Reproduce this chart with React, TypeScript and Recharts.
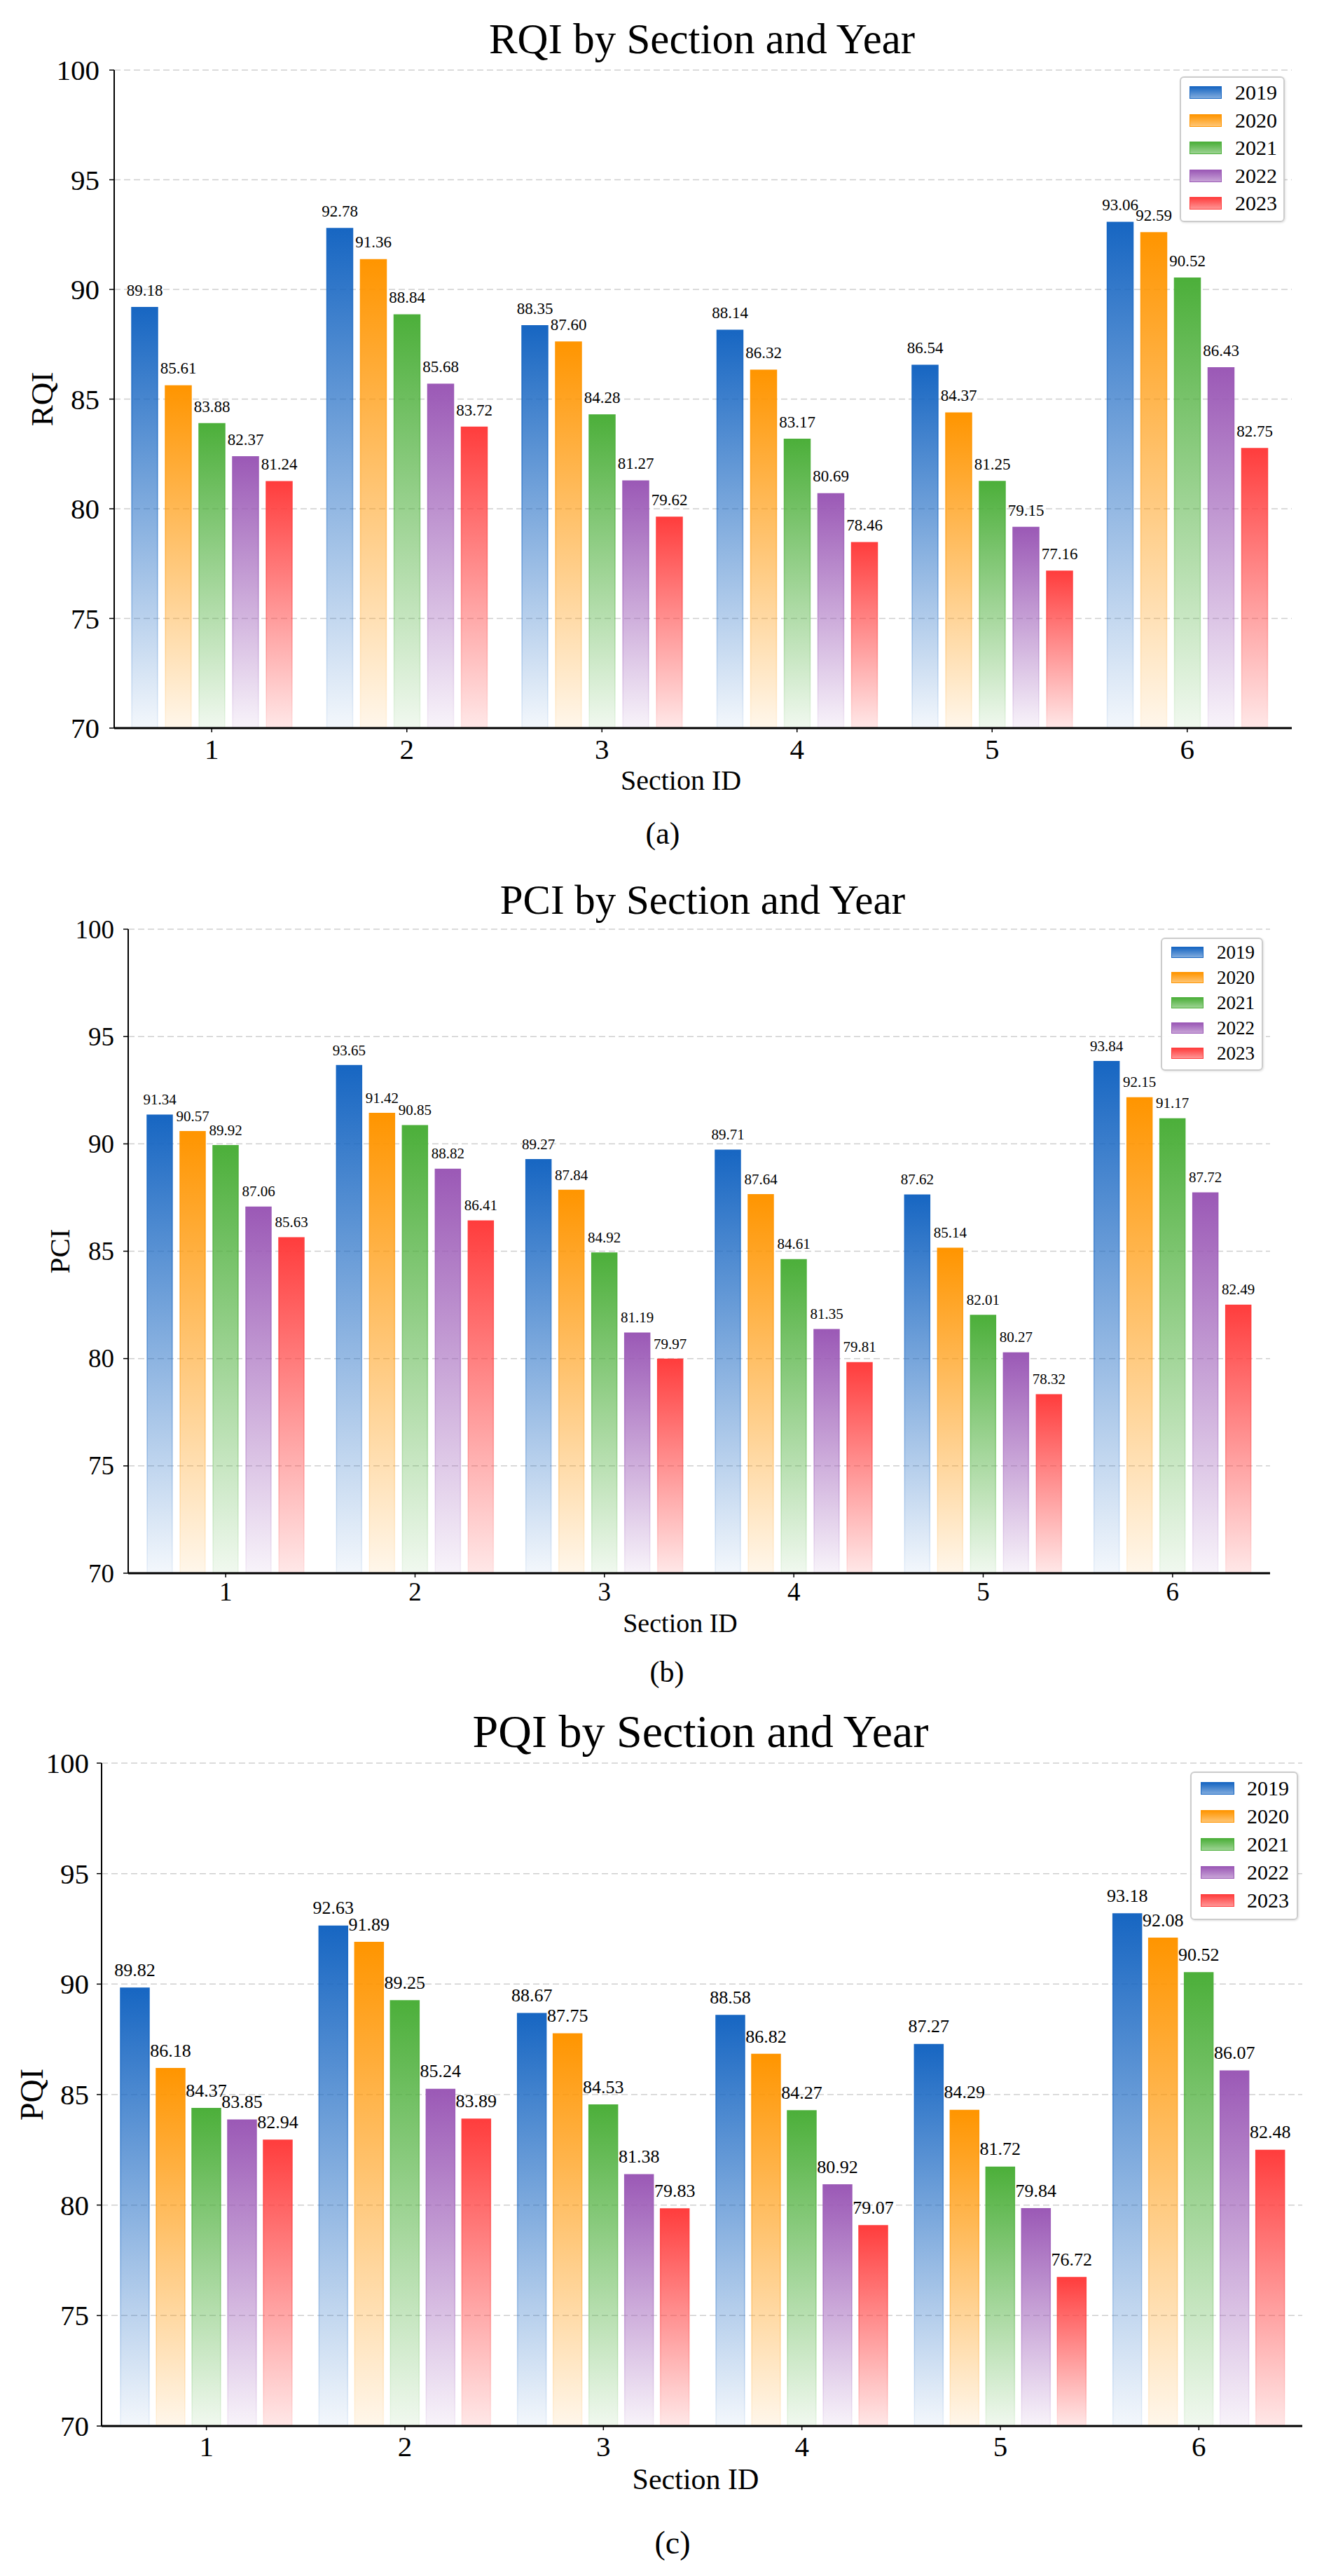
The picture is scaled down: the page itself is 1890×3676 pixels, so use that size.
import React from 'react';
import { BarChart, Bar, XAxis, YAxis, CartesianGrid, LabelList, Legend, Label } from 'recharts';

const SERIF = '"Liberation Serif", "Times New Roman", serif';

const sections = ['1', '2', '3', '4', '5', '6'];
const years = ['2019', '2020', '2021', '2022', '2023'];
const yTicks = [70, 75, 80, 85, 90, 95, 100];

// RQI values per year (sections 1..6)
const rqi2019 = [89.18, 92.78, 88.35, 88.14, 86.54, 93.06];
const rqi2020 = [85.61, 91.36, 87.6, 86.32, 84.37, 92.59];
const rqi2021 = [83.88, 88.84, 84.28, 83.17, 81.25, 90.52];
const rqi2022 = [82.37, 85.68, 81.27, 80.69, 79.15, 86.43];
const rqi2023 = [81.24, 83.72, 79.62, 78.46, 77.16, 82.75];

// PCI values per year
const pci2019 = [91.34, 93.65, 89.27, 89.71, 87.62, 93.84];
const pci2020 = [90.57, 91.42, 87.84, 87.64, 85.14, 92.15];
const pci2021 = [89.92, 90.85, 84.92, 84.61, 82.01, 91.17];
const pci2022 = [87.06, 88.82, 81.19, 81.35, 80.27, 87.72];
const pci2023 = [85.63, 86.41, 79.97, 79.81, 78.32, 82.49];

// PQI values per year
const pqi2019 = [89.82, 92.63, 88.67, 88.58, 87.27, 93.18];
const pqi2020 = [86.18, 91.89, 87.75, 86.82, 84.29, 92.08];
const pqi2021 = [84.37, 89.25, 84.53, 84.27, 81.72, 90.52];
const pqi2022 = [83.85, 85.24, 81.38, 80.92, 79.84, 86.07];
const pqi2023 = [82.94, 83.89, 79.83, 79.07, 76.72, 82.48];

const colors = ['#1766c2', '#ff9500', '#4caf3a', '#9b59b6', '#ff3d3d'];
const bottomOpacity = [0.05, 0.08, 0.08, 0.07, 0.12];

const buildRows = (series: number[][]) =>
  sections.map((s, i) => {
    const row: Record<string, any> = { section: s };
    years.forEach((y, k) => {
      row['y' + y] = series[k][i];
    });
    return row;
  });

type LegendCfg = {
  left: number; top: number; w: number; h: number;
  first: number; step: number; swL: number; swW: number; swH: number; txL: number; font: number;
};

type Cfg = {
  id: string; title: string; yLabel: string; caption: string;
  top: number; height: number;
  plotLeft: number; plotRight: number; plotTop: number; plotBottom: number;
  padL: number; padR: number; barSize: number; barGap: number;
  tickFont: number; yTickGap: number; xTickMargin: number;
  labelFont: number; labelOffset: number;
  titleFont: number; titleX: number; titleY: number;
  axisFont: number; xLabelX: number; xLabelY: number;
  yLabelFont: number; yLabelX: number;
  capFont: number; capX: number; capY: number;
  legend: LegendCfg;
  series: number[][];
};

const charts: Cfg[] = [
  {
    id: 'a', title: 'RQI by Section and Year', yLabel: 'RQI', caption: '(a)',
    top: 0, height: 1230,
    plotLeft: 163, plotRight: 1844, plotTop: 100, plotBottom: 1039,
    padL: 0, padR: 10, barSize: 37, barGap: 11,
    tickFont: 41, yTickGap: 14, xTickMargin: 9,
    labelFont: 23, labelOffset: 17,
    titleFont: 61, titleX: 1002, titleY: 56,
    axisFont: 40, xLabelX: 972, xLabelY: 1113,
    yLabelFont: 45, yLabelX: 60,
    capFont: 44, capX: 946, capY: 1190,
    legend: { left: 1684, top: 109, w: 150, h: 208, first: 23, step: 39.5, swL: 14, swW: 46, swH: 18, txL: 79, font: 30 },
    series: [rqi2019, rqi2020, rqi2021, rqi2022, rqi2023],
  },
  {
    id: 'b', title: 'PCI by Section and Year', yLabel: 'PCI', caption: '(b)',
    top: 1230, height: 1200,
    plotLeft: 183, plotRight: 1813, plotTop: 96, plotBottom: 1015,
    padL: 4, padR: 4, barSize: 36, barGap: 11,
    tickFont: 37, yTickGap: 13, xTickMargin: 7,
    labelFont: 21, labelOffset: 15,
    titleFont: 59, titleX: 1003, titleY: 54,
    axisFont: 38, xLabelX: 971, xLabelY: 1086,
    yLabelFont: 41, yLabelX: 85,
    capFont: 42, capX: 952, capY: 1156,
    legend: { left: 1657, top: 108, w: 146, h: 190, first: 21, step: 36, swL: 15, swW: 46, swH: 16, txL: 80, font: 27 },
    series: [pci2019, pci2020, pci2021, pci2022, pci2023],
  },
  {
    id: 'c', title: 'PQI by Section and Year', yLabel: 'PQI', caption: '(c)',
    top: 2430, height: 1246,
    plotLeft: 145, plotRight: 1859, plotTop: 86, plotBottom: 1032,
    padL: 8, padR: 6, barSize: 41, barGap: 10,
    tickFont: 41, yTickGap: 11, xTickMargin: 8,
    labelFont: 26, labelOffset: 17,
    titleFont: 66, titleX: 1000, titleY: 41,
    axisFont: 42, xLabelX: 993, xLabelY: 1108,
    yLabelFont: 46, yLabelX: 45,
    capFont: 46, capX: 960, capY: 1199,
    legend: { left: 1699, top: 98, w: 154, h: 212, first: 24, step: 40, swL: 15, swW: 48, swH: 18, txL: 81, font: 30 },
    series: [pqi2019, pqi2020, pqi2021, pqi2022, pqi2023],
  },
];

const hexA = (hex: string, a: number) => {
  const r = parseInt(hex.slice(1, 3), 16);
  const g = parseInt(hex.slice(3, 5), 16);
  const b = parseInt(hex.slice(5, 7), 16);
  return `rgba(${r},${g},${b},${a})`;
};

const LegendBox = ({ cfg }: { cfg: LegendCfg }) => (
  <div
    style={{
      position: 'relative',
      width: cfg.w,
      height: cfg.h,
      boxSizing: 'border-box',
      border: '2px solid #cccccc',
      borderRadius: 6,
      background: 'rgba(255,255,255,0.95)',
      boxShadow: '1px 1px 3px rgba(0,0,0,0.12)',
      fontFamily: SERIF,
    }}
  >
    {years.map((y, i) => {
      const cy = cfg.first + i * cfg.step - 2;
      return (
        <React.Fragment key={y}>
          <div
            style={{
              position: 'absolute',
              left: cfg.swL - 2,
              top: cy - cfg.swH / 2,
              width: cfg.swW,
              height: cfg.swH,
              boxSizing: 'border-box',
              border: `1px solid ${colors[i]}`,
              background: `linear-gradient(to bottom, ${hexA(colors[i], 1)} 0%, ${hexA(colors[i], 0.8)} 45%, ${hexA(colors[i], 0.55)} 100%)`,
            }}
          />
          <div
            style={{
              position: 'absolute',
              left: cfg.txL - 2,
              top: cy - cfg.font * 0.6,
              fontSize: cfg.font,
              lineHeight: `${cfg.font * 1.2}px`,
              color: '#000',
              whiteSpace: 'nowrap',
            }}
          >
            {y}
          </div>
        </React.Fragment>
      );
    })}
  </div>
);

const Overlay = ({ text, x, y, font }: { text: string; x: number; y: number; font: number }) => (
  <div
    style={{
      position: 'absolute',
      left: x - 500,
      width: 1000,
      top: y - font * 0.6,
      fontSize: font,
      lineHeight: `${font * 1.2}px`,
      textAlign: 'center',
      fontFamily: SERIF,
      color: '#000',
      whiteSpace: 'nowrap',
      pointerEvents: 'none',
    }}
  >
    {text}
  </div>
);

const makeYTick = (font: number) => (props: any) => {
  const { x, y, payload } = props;
  return (
    <text x={x} y={y} textAnchor="end" dominantBaseline="central" fontSize={font} fontFamily={SERIF} fill="#000">
      {payload.value}
    </text>
  );
};

const makeXTick = (font: number) => (props: any) => {
  const { x, y, payload } = props;
  return (
    <text x={x} y={y} dy="0.71em" textAnchor="middle" fontSize={font} fontFamily={SERIF} fill="#000">
      {payload.value}
    </text>
  );
};

const Chart = ({ cfg }: { cfg: Cfg }) => {
  const data = buildRows(cfg.series);
  const yAxisWidth = 100;
  const xAxisHeight = 100;
  const margin = {
    top: cfg.plotTop,
    left: cfg.plotLeft - yAxisWidth,
    right: 1890 - cfg.plotRight,
    bottom: cfg.height - cfg.plotBottom - xAxisHeight,
  };
  return (
    <div style={{ position: 'absolute', left: 0, top: cfg.top, width: 1890, height: cfg.height, fontFamily: SERIF }}>
      <BarChart
        width={1890}
        height={cfg.height}
        data={data}
        margin={margin}
        barSize={cfg.barSize}
        barGap={cfg.barGap}
        style={{ fontFamily: SERIF }}
      >
        <defs>
          {colors.map((c, i) => (
            <linearGradient key={'f' + i} id={`fill-${cfg.id}-${i}`} x1="0" y1="0" x2="0" y2="1">
              <stop offset="0%" stopColor={c} stopOpacity={1} />
              <stop offset="100%" stopColor={c} stopOpacity={bottomOpacity[i]} />
            </linearGradient>
          ))}
          {colors.map((c, i) => (
            <linearGradient key={'s' + i} id={`edge-${cfg.id}-${i}`} x1="0" y1="0" x2="0" y2="1">
              <stop offset="0%" stopColor={c} stopOpacity={1} />
              <stop offset="100%" stopColor={c} stopOpacity={0.08} />
            </linearGradient>
          ))}
        </defs>
        <CartesianGrid
          horizontal
          vertical={false}
          stroke="#cfcfcf"
          strokeDasharray="9 5"
          strokeWidth={1.5}
        />
        <XAxis
          dataKey="section"
          height={xAxisHeight}
          padding={{ left: cfg.padL, right: cfg.padR }}
          tickSize={6}
          tickMargin={cfg.xTickMargin}
          axisLine={{ stroke: '#000', strokeWidth: 3 }}
          tickLine={{ stroke: '#000', strokeWidth: 1.5 }}
          tick={makeXTick(cfg.tickFont)}
        >
          <Label
            content={() => (
              <text
                x={cfg.xLabelX}
                y={cfg.xLabelY}
                textAnchor="middle"
                dominantBaseline="central"
                fontSize={cfg.axisFont}
                fontFamily={SERIF}
                fill="#000"
              >
                Section ID
              </text>
            )}
          />
        </XAxis>
        <YAxis
          width={yAxisWidth}
          domain={[70, 100]}
          ticks={yTicks}
          type="number"
          allowDataOverflow
          tickSize={7}
          tickMargin={cfg.yTickGap}
          axisLine={{ stroke: '#000', strokeWidth: 2 }}
          tickLine={{ stroke: '#000', strokeWidth: 1.5 }}
          tick={makeYTick(cfg.tickFont)}
        >
          <Label
            content={(props: any) => {
              const vb = props.viewBox || { y: cfg.plotTop, height: cfg.plotBottom - cfg.plotTop };
              const cy = vb.y + vb.height / 2;
              return (
                <text
                  x={cfg.yLabelX}
                  y={cy}
                  transform={`rotate(-90, ${cfg.yLabelX}, ${cy})`}
                  textAnchor="middle"
                  dominantBaseline="central"
                  fontSize={cfg.yLabelFont}
                  fontFamily={SERIF}
                  fill="#000"
                >
                  {cfg.yLabel}
                </text>
              );
            }}
          />
        </YAxis>
        <Legend
          layout="horizontal"
          verticalAlign="middle"
          align="center"
          wrapperStyle={{ left: cfg.legend.left, top: cfg.legend.top, width: cfg.legend.w, height: cfg.legend.h }}
          content={() => <LegendBox cfg={cfg.legend} />}
        />
        {years.map((y, i) => (
          <Bar
            key={y}
            dataKey={'y' + y}
            name={y}
            fill={`url(#fill-${cfg.id}-${i})`}
            stroke={`url(#edge-${cfg.id}-${i})`}
            strokeWidth={1.5}
            isAnimationActive={false}
          >
            <LabelList
              dataKey={'y' + y}
              position="top"
              offset={cfg.labelOffset}
              formatter={(v: any) => Number(v).toFixed(2)}
              style={{ fontSize: cfg.labelFont, fontFamily: SERIF, fill: '#000' }}
            />
          </Bar>
        ))}
      </BarChart>
      <Overlay text={cfg.title} x={cfg.titleX} y={cfg.titleY} font={cfg.titleFont} />
      <Overlay text={cfg.caption} x={cfg.capX} y={cfg.capY} font={cfg.capFont} />
    </div>
  );
};

export default function App() {
  return (
    <div style={{ position: 'absolute', left: 0, top: 0, width: 1890, height: 3676, background: '#ffffff', overflow: 'hidden' }}>
      {charts.map((c) => (
        <Chart key={c.id} cfg={c} />
      ))}
    </div>
  );
}
